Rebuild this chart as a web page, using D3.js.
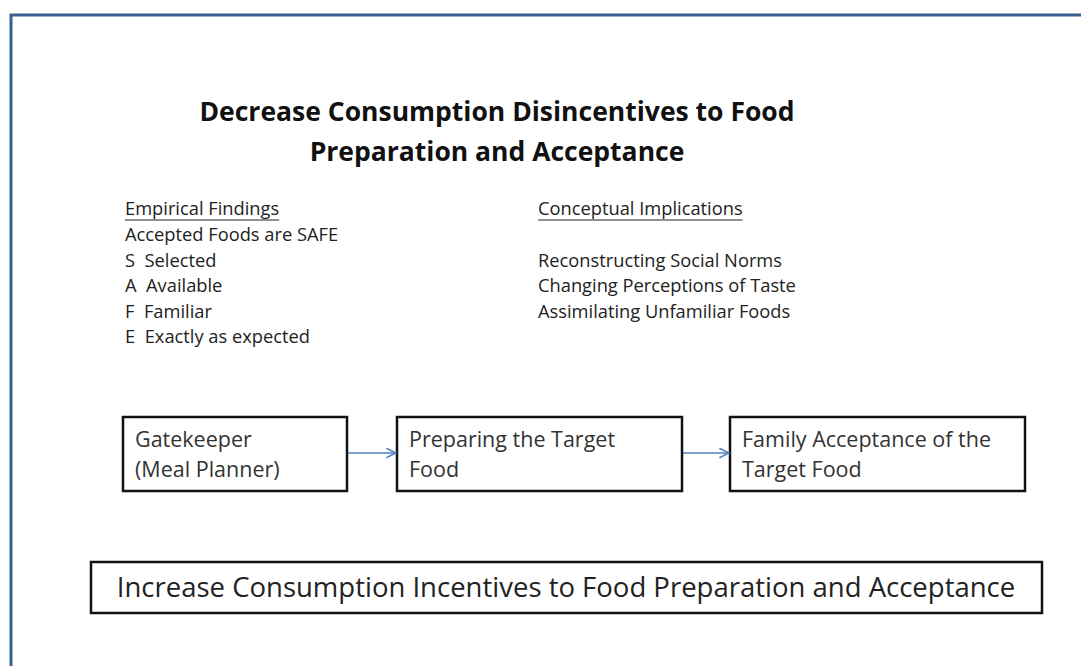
<!DOCTYPE html>
<html lang="en">
<head>
<meta charset="utf-8">
<title>Decrease Consumption Disincentives to Food Preparation and Acceptance</title>
<script src="https://d3js.org/d3.v7.min.js"></script>
<style>
  body { margin: 0; background: #fff; }
  text { font-family: "Open Sans", "Liberation Sans", sans-serif; }
</style>
</head>
<body>
<svg id="diagram"></svg>
<script>
    // text content
    const titleLines = ["Decrease Consumption Disincentives to Food", "Preparation and Acceptance"];
    const findingsHead = "Empirical Findings";
    const findings = ["Accepted Foods are SAFE", "S  Selected", "A  Available", "F  Familiar", "E  Exactly as expected"];
    const implicationsHead = "Conceptual Implications";
    const implications = ["", "Reconstructing Social Norms", "Changing Perceptions of Taste", "Assimilating Unfamiliar Foods"];
    const steps = [
        ["Gatekeeper", "(Meal Planner)"],
        ["Preparing the Target", "Food"],
        ["Family Acceptance of the", "Target Food"]
    ];
    const bottomLabel = "Increase Consumption Incentives to Food Preparation and Acceptance";

    let W = 1081, H = 666;
    let svg = d3.select("#diagram").attr("width", W).attr("height", H);

    svg.append("defs").append("marker")
        .attr("id", "arrow")
        .attr("viewBox", "0 0 10 10")
        .attr("refX", 9).attr("refY", 5)
        .attr("markerWidth", 12).attr("markerHeight", 12)
        .attr("markerUnits", "userSpaceOnUse")
        .attr("orient", "auto")
        .append("path")
        .attr("d", "M1,1 L9,5 L1,9")
        .attr("fill", "none")
        .attr("stroke", "#4f81bd")
        .attr("stroke-width", 1.3);

    // slide frame (blue, top + left only)
    svg.append("path")
        .attr("d", "M11,666 L11,15 L1081,15")
        .attr("fill", "none")
        .attr("stroke", "#3d5f8f")
        .attr("stroke-width", 3);

    // title
    svg.append("g").selectAll("text")
        .data(titleLines)
        .join("text")
        .attr("x", 497)
        .attr("y", (d, i) => 121 + i * 40)
        .attr("text-anchor", "middle")
        .attr("font-weight", "bold")
        .attr("font-size", 26.5)
        .attr("fill", "#111")
        .text(d => d);

    // two text columns
    function column(x, head, lines) {
        let g = svg.append("g").attr("transform", "translate(" + x + ",0)");
        let h = g.append("text")
            .attr("x", 0).attr("y", 215)
            .attr("font-size", 18.3)
            .attr("fill", "#222")
            .text(head);
        let len = h.node().getComputedTextLength();
        g.append("line")
            .attr("x1", 0).attr("x2", len)
            .attr("y1", 220).attr("y2", 220)
            .attr("stroke", "#222").attr("stroke-width", 1);
        g.selectAll("text.item")
            .data(lines)
            .join("text")
            .attr("class", "item")
            .attr("x", 0)
            .attr("y", (d, i) => 241 + i * 25.5)
            .attr("font-size", 18.3)
            .attr("fill", "#222")
            .attr("xml:space", "preserve")
            .style("white-space", "pre")
            .text(d => d);
    }
    column(125, findingsHead, findings);
    column(538, implicationsHead, implications);

    // process boxes
    let boxX = [123, 397, 730];
    let boxW = [224, 285, 295];
    let boxY = 417, boxH = 74;

    let boxes = svg.append("g").selectAll("g")
        .data(steps)
        .join("g")
        .attr("transform", (d, i) => "translate(" + boxX[i] + "," + boxY + ")");
    boxes.append("rect")
        .attr("width", (d, i) => boxW[i])
        .attr("height", boxH)
        .attr("fill", "#fff")
        .attr("stroke", "#111")
        .attr("stroke-width", 2.5);
    boxes.selectAll("text")
        .data(d => d)
        .join("text")
        .attr("x", 12)
        .attr("y", (d, i) => 30 + i * 30)
        .attr("font-size", 21.5)
        .attr("fill", "#333")
        .text(d => d);

    // arrows between boxes
    svg.append("g").selectAll("line")
        .data(d3.range(steps.length - 1))
        .join("line")
        .attr("x1", i => boxX[i] + boxW[i] + 1)
        .attr("x2", i => boxX[i + 1] - 1)
        .attr("y1", 453).attr("y2", 453)
        .attr("stroke", "#4f81bd")
        .attr("stroke-width", 1.3)
        .attr("marker-end", "url(#arrow)");

    // bottom box
    let bottom = svg.append("g").attr("transform", "translate(91,562)");
    bottom.append("rect")
        .attr("width", 951).attr("height", 51)
        .attr("fill", "#fff")
        .attr("stroke", "#111")
        .attr("stroke-width", 2.5);
    bottom.append("text")
        .attr("x", 475).attr("y", 35)
        .attr("text-anchor", "middle")
        .attr("font-size", 27.5)
        .attr("fill", "#222")
        .text(bottomLabel);
</script>
</body>
</html>
